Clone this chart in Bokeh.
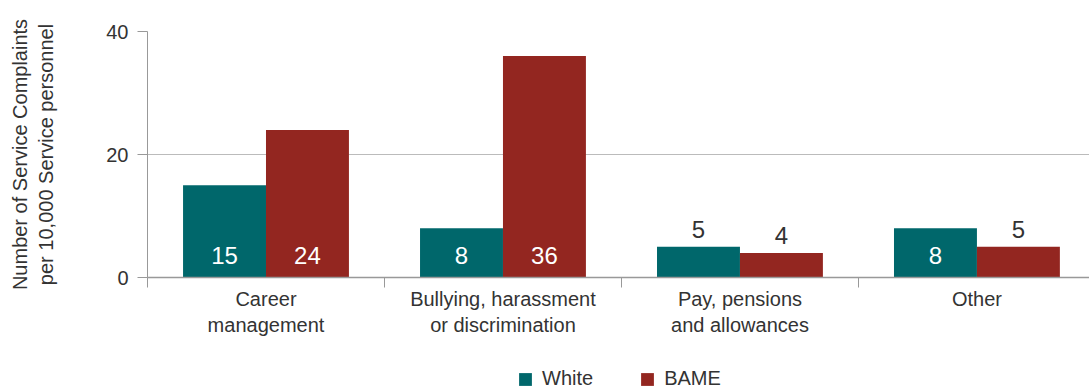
from bokeh.plotting import figure
from bokeh.layouts import column
from bokeh.models import ColumnDataSource, Range1d, FixedTicker, Legend, LegendItem
from bokeh.core.properties import value
from bokeh.embed import file_html
from bokeh.resources import INLINE

categories = ["Career\nmanagement", "Bullying, harassment\nor discrimination",
              "Pay, pensions\nand allowances", "Other"]
white = [15, 8, 5, 8]
bame = [24, 36, 4, 5]
series_names = ["White", "BAME"]
y_ticks = [0, 20, 40]

TEAL = "#00676B"
RED = "#932620"
FONT = "Liberation Sans"
TXT = "#333333"

centers = [i + 0.5 for i in range(len(categories))]
bw = 0.35

p = figure(width=1089, height=350, output_backend="svg", toolbar_location=None,
           x_range=Range1d(0, 3.975), y_range=Range1d(0, 40),
           min_border_left=147, min_border_right=0, min_border_top=31,
           min_border_bottom=73)
p.outline_line_color = None
p.background_fill_color = "white"

def labels_for(vals, xs):
    inside = [v >= 8 for v in vals]
    return dict(
        x=xs, top=vals,
        lbl=[str(v) for v in vals],
        ty=[0 if ins else v for v, ins in zip(vals, inside)],
        yoff=[-22 if ins else -17 for ins in inside],
        col=["white" if ins else TXT for ins in inside],
    )

xw = [c - bw / 2 for c in centers]
xb = [c + bw / 2 for c in centers]
sw = ColumnDataSource(labels_for(white, xw))
sb = ColumnDataSource(labels_for(bame, xb))

p.vbar(x="x", top="top", bottom=0, width=bw, source=sw, fill_color=TEAL, line_color=None)
p.vbar(x="x", top="top", bottom=0, width=bw, source=sb, fill_color=RED, line_color=None)

for s in (sw, sb):
    p.text(x="x", y="ty", text="lbl", y_offset="yoff", text_color="col", source=s,
           text_align="center", text_baseline="middle",
           text_font=value(FONT), text_font_size="24px")

# axes
xa = p.xaxis[0]
xa.ticker = FixedTicker(ticks=centers, minor_ticks=[0, 1, 2, 3])
xa.major_label_overrides = {c: lab for c, lab in zip(centers, categories)}
xa.major_tick_out = 0
xa.major_tick_in = 0
xa.minor_tick_out = 10
xa.minor_tick_in = 0
xa.minor_tick_line_color = "#999999"
xa.axis_line_color = "#999999"
xa.axis_line_width = 1.5
xa.major_label_standoff = 0
xa.major_label_text_font = FONT
xa.major_label_text_font_size = "20px"
xa.major_label_text_color = TXT

ya = p.yaxis[0]
ya.ticker = FixedTicker(ticks=y_ticks)
ya.minor_tick_line_color = None
ya.major_tick_out = 10
ya.major_tick_in = 0
ya.major_tick_line_color = "#999999"
ya.axis_line_color = "#999999"
ya.major_label_standoff = 9
ya.major_label_text_font = FONT
ya.major_label_text_font_size = "20px"
ya.major_label_text_color = TXT
ya.axis_label = "Number of Service Complaints\nper 10,000 Service personnel"
ya.axis_label_text_font = FONT
ya.axis_label_text_font_size = "20px"
ya.axis_label_text_font_style = "normal"
ya.axis_label_text_color = TXT
ya.axis_label_standoff = 46

p.xgrid.grid_line_color = None
p.ygrid.ticker = FixedTicker(ticks=y_ticks)
p.ygrid.grid_line_color = "#BBBBBB"

# legend strip (its frame is aligned with the main frame by the column layout)
p2 = figure(width=1089, height=38, output_backend="svg", toolbar_location=None,
            x_range=Range1d(0, 1), y_range=Range1d(0, 1),
            x_axis_type=None, y_axis_type=None,
            min_border_left=0, min_border_right=0, min_border_top=0, min_border_bottom=0)
p2.outline_line_color = None
p2.xgrid.visible = False
p2.ygrid.visible = False
lw = p2.vbar(x=[5], top=[5], bottom=[4], width=0.1, fill_color=TEAL, line_color=None)
lb = p2.vbar(x=[5], top=[5], bottom=[4], width=0.1, fill_color=RED, line_color=None)
legend = Legend(items=[LegendItem(label=series_names[0], renderers=[lw]),
                       LegendItem(label=series_names[1], renderers=[lb])],
                location=(370, -2), orientation="horizontal",
                glyph_width=16, glyph_height=16, label_standoff=9, spacing=46,
                padding=0, margin=0, border_line_color=None,
                background_fill_alpha=0,
                label_text_font=FONT, label_text_font_size="20px",
                label_text_color=TXT)
p2.add_layout(legend, "center")

layout = column(p, p2, spacing=0)
open("out.html", "w").write(file_html(layout, INLINE))
